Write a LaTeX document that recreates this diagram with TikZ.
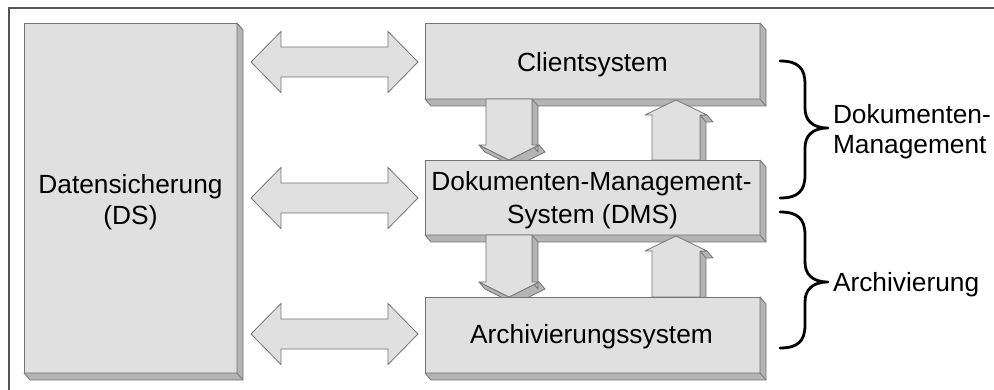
\documentclass[tikz,border=0pt]{standalone}
\usepackage{fontspec}
\setmainfont{Liberation Sans}
\usetikzlibrary{calc}
\definecolor{boxfill}{HTML}{E0E0E0}
\definecolor{sidefill}{HTML}{B4B4B4}
\definecolor{edgecol}{HTML}{747474}
\definecolor{framecol}{HTML}{555555}
\pgfdeclarelayer{bgl}\pgfdeclarelayer{la}\pgfdeclarelayer{lb}\pgfdeclarelayer{lc}\pgfdeclarelayer{ld}
\pgfsetlayers{bgl,la,lb,lc,ld,main}
\tikzset{
  box/.style={rectangle, draw=edgecol, fill=boxfill, line width=0.8pt, inner sep=0pt, outer sep=0pt},
  sideface/.style={draw=edgecol, fill=sidefill, line width=0.8pt, line join=round},
  frontface/.style={draw=edgecol, fill=boxfill, line width=0.8pt, line join=round},
  flatarrow/.style={draw=edgecol, fill=boxfill, line width=0.8pt, line join=miter},
  lbl/.style={inner sep=0pt, outer sep=0pt, font=\fontsize{26.3}{31}\selectfont},
  bracepath/.style={draw=black, line width=2.8pt, line cap=round, line join=round},
}
\newcommand{\BoxSides}[1]{%
  \filldraw[sideface] (#1.north east) -- ++(6,7) -- ($(#1.south east)+(6,7)$) -- ($(#1.south west)+(6,7)$) -- (#1.south west) -- (#1.south east) -- cycle;
  \draw[edgecol, line width=0.8pt] (#1.south east) -- ++(6,7);}
% down block arrow: #1 top centre, #2 tip
\newcommand{\DownArr}[2]{%
  \filldraw[sideface] let \p1=(#1), \p2=(#2) in
   (\x1+23pt,\y1) -- (\x1+23pt,\y2+15pt) -- (\x1+29pt,\y2+8pt) -- (\x1+29pt,\y1-7pt) -- cycle
   (\x1+30pt,\y2+15pt) -- (\x2,\y2) -- (\x2+6pt,\y2-7pt) -- (\x1+36pt,\y2+8pt) -- cycle
   (\x2,\y2) -- (\x1-30pt,\y2+15pt) -- (\x1-24pt,\y2+8pt) -- (\x2+6pt,\y2-7pt) -- cycle;
  \filldraw[frontface] let \p1=(#1), \p2=(#2) in
   (\x1-23pt,\y1) -- (\x1+23pt,\y1) -- (\x1+23pt,\y2+15pt) -- (\x1+30pt,\y2+15pt) -- (\x2,\y2)
   -- (\x1-30pt,\y2+15pt) -- (\x1-23pt,\y2+15pt) -- cycle;}
% up block arrow: #1 bottom centre, #2 tip
\newcommand{\UpArr}[2]{%
  \filldraw[sideface] let \p1=(#1), \p2=(#2) in
   (\x1+24pt,\y1) -- (\x1+24pt,\y2-15pt) -- (\x1+30pt,\y2-22pt) -- (\x1+30pt,\y1-7pt) -- cycle
   (\x1+24pt,\y2-15pt) -- (\x1+31pt,\y2-15pt) -- (\x1+37pt,\y2-22pt) -- (\x1+30pt,\y2-22pt) -- cycle;
  \filldraw[frontface] let \p1=(#1), \p2=(#2) in
   (\x1-24pt,\y1) -- (\x1-24pt,\y2-15pt) -- (\x1-31pt,\y2-15pt) -- (\x2,\y2) -- (\x1+31pt,\y2-15pt)
   -- (\x1+24pt,\y2-15pt) -- (\x1+24pt,\y1) -- cycle;}
% flat double arrow: #1 left tip, #2 right tip
\newcommand{\DblArr}[2]{%
  \filldraw[flatarrow] let \p1=(#1), \p2=(#2) in
   (\x1,\y1) -- (\x1+30pt,\y1+30.5pt) -- (\x1+30pt,\y1+15pt) -- (\x2-30pt,\y1+15pt) -- (\x2-30pt,\y1+30.5pt)
   -- (\x2,\y1) -- (\x2-30pt,\y1-30.5pt) -- (\x2-30pt,\y1-15pt) -- (\x1+30pt,\y1-15pt) -- (\x1+30pt,\y1-30.5pt) -- cycle;}
\newcommand{\RBrace}[3]{%
  \draw[bracepath] (780,#1) .. controls (798,#1) and (805,#1+7) .. (805,#1+23) -- (805,#2-20)
   .. controls (805,#2-8) and (812,#2) .. (828,#2)
   .. controls (812,#2) and (805,#2+8) .. (805,#2+20) -- (805,#3-23)
   .. controls (805,#3-7) and (798,#3) .. (780,#3);}
\begin{document}
\begin{tikzpicture}[x=1pt, y=-1pt]
\useasboundingbox (0,0) rectangle (994,390);
\begin{pgfonlayer}{bgl}
\fill[white] (0,0) rectangle (994,390);
\end{pgfonlayer}
\draw[framecol, line width=1.5pt] (9,390) -- (9,8) -- (994,8);

% boxes
\begin{pgfonlayer}{la}
\node[box, minimum width=335pt, minimum height=76pt] (client) at (592.5,61) {};
\BoxSides{client}
\node[lbl, anchor=base] (tclient) at ($(client.center)+(0,11)$) {Clientsystem};
\end{pgfonlayer}
\begin{pgfonlayer}{lc}
\node[box, minimum width=335pt, minimum height=75pt] (dms) at (592.5,197.5) {};
\BoxSides{dms}
\node[lbl, anchor=base] (tdms1) at ($(dms.center)+(-1,-7)$) {Dokumenten-Management-};
\node[lbl, anchor=base] (tdms2) at ($(dms.center)+(0,26)$) {System (DMS)};
\end{pgfonlayer}
\node[box, minimum width=335pt, minimum height=76pt] (arch) at (592.5,335) {};
\BoxSides{arch}
\node[lbl, anchor=base] (tarch) at ($(arch.center)+(-1,9)$) {Archivierungssystem};

\node[box, minimum width=213pt, minimum height=350pt] (ds) at (130.5,198) {};
\BoxSides{ds}
\node[lbl, anchor=base] (tds1) at ($(ds.center)+(0,-4)$) {Datensicherung};
\node[lbl, anchor=base] (tds2) at ($(ds.center)+(0,27)$) {(DS)};

% block arrows
\begin{pgfonlayer}{lb}
\DownArr{$(client.south west)+(84,0)$}{$(dms.north west)+(84,0)$}
\UpArr{$(dms.north west)+(251,0)$}{$(client.south west)+(251,1)$}
\end{pgfonlayer}
\begin{pgfonlayer}{ld}
\DownArr{$(dms.south west)+(84,0)$}{$(arch.north west)+(84,0)$}
\UpArr{$(arch.north west)+(251,0)$}{$(dms.south west)+(251,1)$}
\end{pgfonlayer}

% double arrows
\DblArr{$(ds.east |- client.center)+(14,1)$}{$(client.west)+(-7,1)$}
\DblArr{$(ds.east |- dms.center)+(14,0.5)$}{$(dms.west)+(-7,0.5)$}
\DblArr{$(ds.east |- arch.center)+(14,-1)$}{$(arch.west)+(-7,-1)$}

% braces and labels
\RBrace{61}{128}{198}
\RBrace{212}{282}{348}
\node[lbl, anchor=base west] (lblA) at (833,124) {Dokumenten-};
\node[lbl, anchor=base west] (lblB) at (833,154) {Management};
\node[lbl, anchor=base west] (lblC) at (833,291) {Archivierung};
\end{tikzpicture}
\end{document}
